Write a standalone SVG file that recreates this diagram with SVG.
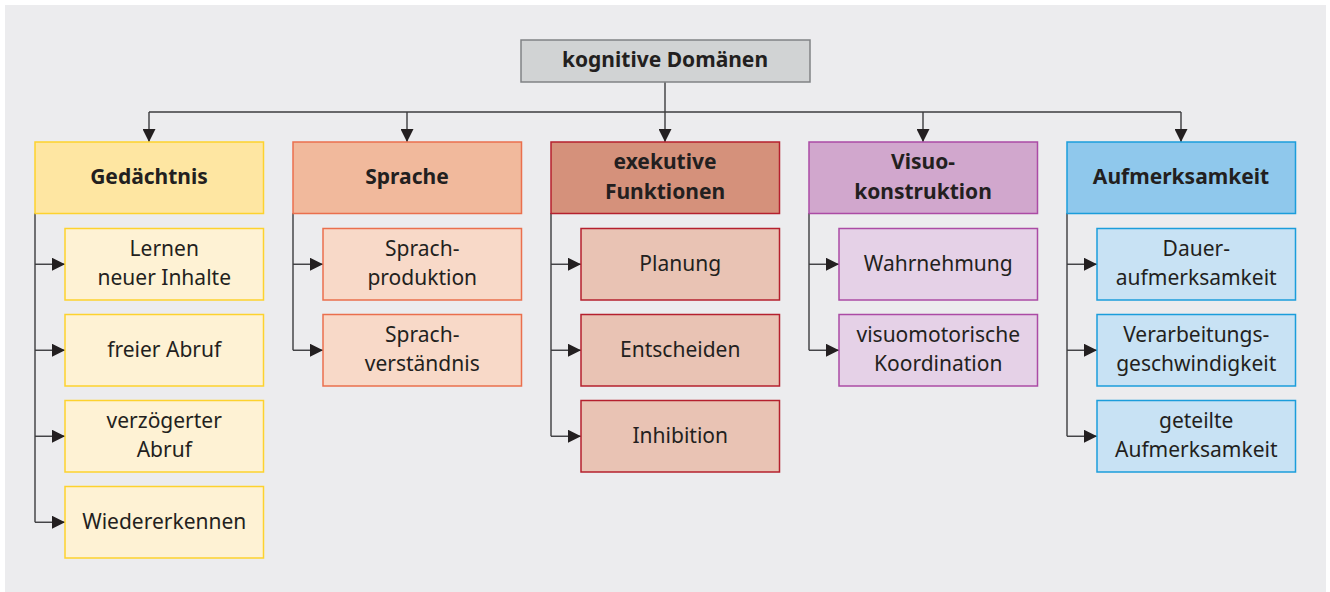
<svg xmlns="http://www.w3.org/2000/svg" width="1330" height="592" viewBox="0 0 1330 592">
<defs>
<marker id="ah" viewBox="0 0 13 13" refX="13" refY="6.5" markerWidth="13" markerHeight="13" markerUnits="userSpaceOnUse" orient="auto">
<path d="M0,0 L13,6.5 L0,13 Z" fill="#231f20"/>
</marker>
<style>
.t{font-family:"Noto Sans","Open Sans",sans-serif;font-size:21px;fill:#231f20;text-anchor:middle}
.b{font-weight:bold}
.ln{fill:none;stroke:#3c3c3e;stroke-width:1.4}
.a{marker-end:url(#ah)}
.y1{fill:#fee6a2;stroke:#fdd22e;stroke-width:1.5}
.y2{fill:#fef2d4;stroke:#fdd22e;stroke-width:1.5}
.o1{fill:#f1b99c;stroke:#ea6f4d;stroke-width:1.5}
.o2{fill:#f8d9c8;stroke:#ea6f4d;stroke-width:1.5}
.r1{fill:#d5917b;stroke:#b5202e;stroke-width:1.5}
.r2{fill:#e9c3b4;stroke:#b5202e;stroke-width:1.5}
.p1{fill:#d1a7cd;stroke:#ab4ba5;stroke-width:1.5}
.p2{fill:#e5d1e7;stroke:#ab4ba5;stroke-width:1.5}
.c1{fill:#8fc8ec;stroke:#1b9ddb;stroke-width:1.5}
.c2{fill:#c8e2f4;stroke:#1b9ddb;stroke-width:1.5}
</style>
</defs>
<rect x="5" y="5" width="1321" height="587" fill="#ececee"/>

<g id="connectors">
<path class="ln a" d="M665,82 V142"/>
<path class="ln" d="M149,112 H1181"/>
<path class="ln a" d="M149,112 V142"/>
<path class="ln a" d="M407,112 V142"/>
<path class="ln a" d="M923,112 V142"/>
<path class="ln a" d="M1181,112 V142"/>
<!-- col1 -->
<path class="ln" d="M35,213 V522.25"/>
<path class="ln a" d="M35,264.25 H65"/>
<path class="ln a" d="M35,350.25 H65"/>
<path class="ln a" d="M35,436.25 H65"/>
<path class="ln a" d="M35,522.25 H65"/>
<!-- col2 -->
<path class="ln" d="M293,213 V350.25"/>
<path class="ln a" d="M293,264.25 H323"/>
<path class="ln a" d="M293,350.25 H323"/>
<!-- col3 -->
<path class="ln" d="M551,213 V436.25"/>
<path class="ln a" d="M551,264.25 H581"/>
<path class="ln a" d="M551,350.25 H581"/>
<path class="ln a" d="M551,436.25 H581"/>
<!-- col4 -->
<path class="ln" d="M809,213 V350.25"/>
<path class="ln a" d="M809,264.25 H839"/>
<path class="ln a" d="M809,350.25 H839"/>
<!-- col5 -->
<path class="ln" d="M1067,213 V436.25"/>
<path class="ln a" d="M1067,264.25 H1097"/>
<path class="ln a" d="M1067,350.25 H1097"/>
<path class="ln a" d="M1067,436.25 H1097"/>
</g>

<g id="root">
<rect x="521" y="40" width="289" height="42" fill="#d1d3d4" stroke="#808285" stroke-width="1.5"/>
<text class="t b" x="665" y="67">kognitive Domänen</text>
</g>

<g id="gedaechtnis">
<rect class="y1" x="35" y="142" width="228.5" height="71.5"/>
<text class="t b" x="149" y="184">Gedächtnis</text>
</g>
<g id="lernen">
<rect class="y2" x="65" y="228.5" width="198.5" height="71.5"/>
<text class="t" x="164.25" y="256">Lernen</text>
<text class="t" x="164.25" y="285">neuer Inhalte</text>
</g>
<g id="freier-abruf">
<rect class="y2" x="65" y="314.5" width="198.5" height="71.5"/>
<text class="t" x="164.25" y="357">freier Abruf</text>
</g>
<g id="verzoegerter-abruf">
<rect class="y2" x="65" y="400.5" width="198.5" height="71.5"/>
<text class="t" x="164.25" y="428">verzögerter</text>
<text class="t" x="164.25" y="457">Abruf</text>
</g>
<g id="wiedererkennen">
<rect class="y2" x="65" y="486.5" width="198.5" height="71.5"/>
<text class="t" x="164.25" y="529">Wiedererkennen</text>
</g>

<g id="sprache">
<rect class="o1" x="293" y="142" width="228.5" height="71.5"/>
<text class="t b" x="407" y="184">Sprache</text>
</g>
<g id="sprachproduktion">
<rect class="o2" x="323" y="228.5" width="198.5" height="71.5"/>
<text class="t" x="422.25" y="256">Sprach-</text>
<text class="t" x="422.25" y="285">produktion</text>
</g>
<g id="sprachverstaendnis">
<rect class="o2" x="323" y="314.5" width="198.5" height="71.5"/>
<text class="t" x="422.25" y="342">Sprach-</text>
<text class="t" x="422.25" y="371">verständnis</text>
</g>

<g id="exekutive">
<rect class="r1" x="551" y="142" width="228.5" height="71.5"/>
<text class="t b" x="665" y="169">exekutive</text>
<text class="t b" x="665" y="199">Funktionen</text>
</g>
<g id="planung">
<rect class="r2" x="581" y="228.5" width="198.5" height="71.5"/>
<text class="t" x="680.25" y="271">Planung</text>
</g>
<g id="entscheiden">
<rect class="r2" x="581" y="314.5" width="198.5" height="71.5"/>
<text class="t" x="680.25" y="357">Entscheiden</text>
</g>
<g id="inhibition">
<rect class="r2" x="581" y="400.5" width="198.5" height="71.5"/>
<text class="t" x="680.25" y="443">Inhibition</text>
</g>

<g id="visuokonstruktion">
<rect class="p1" x="809" y="142" width="228.5" height="71.5"/>
<text class="t b" x="923" y="169">Visuo-</text>
<text class="t b" x="923" y="199">konstruktion</text>
</g>
<g id="wahrnehmung">
<rect class="p2" x="839" y="228.5" width="198.5" height="71.5"/>
<text class="t" x="938.25" y="271">Wahrnehmung</text>
</g>
<g id="visuomotorische">
<rect class="p2" x="839" y="314.5" width="198.5" height="71.5"/>
<text class="t" x="938.25" y="342">visuomotorische</text>
<text class="t" x="938.25" y="371">Koordination</text>
</g>

<g id="aufmerksamkeit">
<rect class="c1" x="1067" y="142" width="228.5" height="71.5"/>
<text class="t b" x="1181" y="184">Aufmerksamkeit</text>
</g>
<g id="dauer">
<rect class="c2" x="1097" y="228.5" width="198.5" height="71.5"/>
<text class="t" x="1196.25" y="256">Dauer-</text>
<text class="t" x="1196.25" y="285">aufmerksamkeit</text>
</g>
<g id="verarbeitung">
<rect class="c2" x="1097" y="314.5" width="198.5" height="71.5"/>
<text class="t" x="1196.25" y="342">Verarbeitungs-</text>
<text class="t" x="1196.25" y="371">geschwindigkeit</text>
</g>
<g id="geteilte">
<rect class="c2" x="1097" y="400.5" width="198.5" height="71.5"/>
<text class="t" x="1196.25" y="428">geteilte</text>
<text class="t" x="1196.25" y="457">Aufmerksamkeit</text>
</g>
</svg>
